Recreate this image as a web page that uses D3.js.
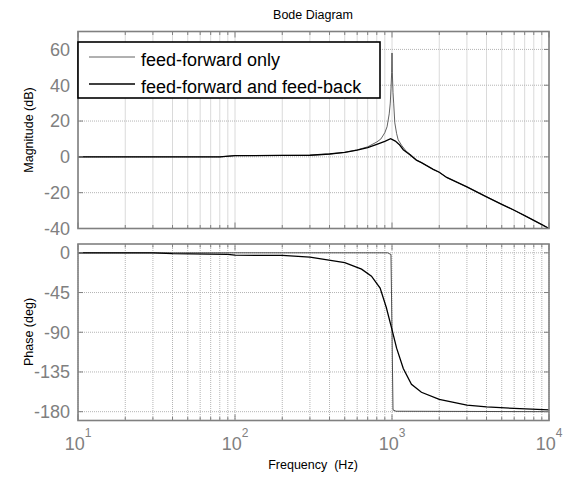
<!DOCTYPE html>
<html>
<head>
<meta charset="utf-8">
<script src="https://cdn.jsdelivr.net/npm/d3@7"></script>
<style>
  body { margin: 0; background: #fff; }
  svg { display: block; font-family: "Liberation Sans", Arial, sans-serif; }
</style>
</head>
<body>
<svg id="bode" width="567" height="477"></svg>
<script>
// feed-forward only: magnitude (dB) and phase (deg) against frequency (Hz)
let ffFreq = [10, 50, 80, 100, 200, 300, 400, 500, 600, 700, 800, 850, 900, 930, 960, 975, 985, 995, 1000, 1005, 1015, 1025, 1042, 1070, 1095, 1150, 1230, 1330, 1430, 1540, 1830, 2000, 2230, 3000, 4000, 5000, 6000, 7000, 8000, 9000, 10000]
let ffMag = [0, 0, 0, 0.7, 0.8, 0.9, 1.6, 2.5, 3.9, 5.6, 8.3, 10, 13.5, 16.8, 24, 30, 38, 47, 58, 47, 36, 30, 19, 13, 9.5, 6.5, 3.2, 0.9, -1.8, -3.2, -7, -8.6, -11.5, -16.8, -22.3, -26.5, -29.8, -32.8, -35.5, -37.8, -40]
let ffPhaseFreq = [10, 940, 985, 1000, 1015, 1060, 10000]
let ffPhase = [0, 0, -2, -90, -178, -179.5, -180]

// feed-forward and feed-back
let fbFreq = [10, 50, 80, 100, 200, 300, 400, 500, 600, 700, 800, 900, 980, 1050, 1120, 1180, 1300, 1430, 1540, 1830, 2000, 2230, 3000, 4000, 5000, 6000, 7000, 8000, 9000, 10000]
let fbMag = [0, 0, 0, 0.7, 0.8, 0.9, 1.6, 2.5, 3.8, 5.2, 7.0, 8.7, 10.1, 8.8, 6.6, 4.0, 1.2, -1.8, -3.2, -7, -8.6, -11.5, -16.8, -22.3, -26.5, -29.8, -32.8, -35.5, -37.8, -40]
let fbPhaseFreq = [10, 30, 40, 90, 100, 200, 300, 500, 640, 740, 840, 920, 1000, 1070, 1180, 1330, 1540, 2000, 3000, 4000, 6000, 10000]
let fbPhase = [0, 0, -1, -1.8, -2.7, -3, -4.8, -11, -18.5, -26.5, -40, -62, -87, -108, -131, -149, -158, -166, -172.5, -174.5, -176.3, -178]

let magTicks = [-40, -20, 0, 20, 40, 60]
let phaseTicks = [-180, -135, -90, -45, 0]
let decades = [10, 100, 1000, 10000]
let exponents = ['1', '2', '3', '4']
let legendLabels = ['feed-forward only', 'feed-forward and feed-back']

var svg = d3.select('#bode')
var left = 78
var right = 549
var axisGray = '#808080'

var x = d3.scaleLog()
  .domain([10, 10000])
  .range([left, right])

var yMag = d3.scaleLinear()
  .domain([-40, 70])
  .range([228.5, 31.5])

var yPhase = d3.scaleLinear()
  .domain([-190, 10])
  .range([420.5, 244])

// every decade plus 2..9 multiples for the log grid
var gridFreqs = []
decades.slice(0, 3).forEach(function (d) {
  for (let k = 1; k < 10; k++) gridFreqs.push(d * k)
})
gridFreqs.push(10000)

function drawPanel (name, y, ticks, traces) {
  var top = y.range()[1]
  var bottom = y.range()[0]
  var g = svg.append('g').attr('class', name)

  g.append('clipPath').attr('id', 'clip-' + name)
    .append('rect')
    .attr('x', left).attr('y', top)
    .attr('width', right - left).attr('height', bottom - top)

  // dotted grid
  g.selectAll('line.vgrid')
    .data(gridFreqs)
    .enter().append('line')
    .attr('class', 'vgrid')
    .attr('x1', d => x(d)).attr('x2', d => x(d))
    .attr('y1', top).attr('y2', bottom)
    .attr('stroke', '#b4b4b4')
    .attr('stroke-dasharray', '1,1')

  g.selectAll('line.hgrid')
    .data(ticks)
    .enter().append('line')
    .attr('class', 'hgrid')
    .attr('x1', left).attr('x2', right)
    .attr('y1', d => y(d)).attr('y2', d => y(d))
    .attr('stroke', '#b4b4b4')
    .attr('stroke-dasharray', '1,1')

  // traces
  var line = d3.line()
    .x(d => x(d[0]))
    .y(d => y(d[1]))
  traces.forEach(function (t) {
    g.append('path')
      .datum(d3.zip(t.freq, t.values))
      .attr('clip-path', 'url(#clip-' + name + ')')
      .attr('d', line)
      .attr('fill', 'none')
      .attr('stroke', t.color)
      .attr('stroke-width', t.width)
  })

  // box
  g.append('rect')
    .attr('x', left).attr('y', top)
    .attr('width', right - left).attr('height', bottom - top)
    .attr('fill', 'none')
    .attr('stroke', axisGray)
    .attr('stroke-width', 1.6)

  // inward ticks on all four sides
  gridFreqs.forEach(function (f) {
    var len = decades.indexOf(f) >= 0 ? 6 : 3.5
    g.append('line')
      .attr('x1', x(f)).attr('x2', x(f))
      .attr('y1', top).attr('y2', top + len)
      .attr('stroke', axisGray)
    g.append('line')
      .attr('x1', x(f)).attr('x2', x(f))
      .attr('y1', bottom).attr('y2', bottom - len)
      .attr('stroke', axisGray)
  })
  ticks.forEach(function (v) {
    g.append('line')
      .attr('x1', left).attr('x2', left + 5)
      .attr('y1', y(v)).attr('y2', y(v))
      .attr('stroke', axisGray)
    g.append('line')
      .attr('x1', right).attr('x2', right - 5)
      .attr('y1', y(v)).attr('y2', y(v))
      .attr('stroke', axisGray)
  })

  g.selectAll('text.ylab')
    .data(ticks)
    .enter().append('text')
    .attr('class', 'ylab')
    .attr('x', 70)
    .attr('y', d => y(d))
    .attr('dy', '0.35em')
    .attr('text-anchor', 'end')
    .attr('font-size', 18)
    .attr('fill', axisGray)
    .text(d => d)

  return g
}

drawPanel('mag', yMag, magTicks, [
  {freq: ffFreq, values: ffMag, color: '#3a3a3a', width: 0.8},
  {freq: fbFreq, values: fbMag, color: '#000', width: 1.3}
])

drawPanel('phase', yPhase, phaseTicks, [
  {freq: ffPhaseFreq, values: ffPhase, color: '#3a3a3a', width: 0.9},
  {freq: fbPhaseFreq, values: fbPhase, color: '#000', width: 1.3}
])

// decade labels 10^n under the phase panel
var xl = svg.selectAll('text.xlab')
  .data(decades)
  .enter().append('text')
  .attr('class', 'xlab')
  .attr('x', d => x(d))
  .attr('y', 450)
  .attr('text-anchor', 'middle')
  .attr('fill', axisGray)
  .attr('font-size', 18)
xl.append('tspan').text('10')
xl.append('tspan')
  .attr('dy', -13)
  .attr('font-size', 12)
  .text((d, i) => exponents[i])

// titles
svg.append('text')
  .attr('x', 313).attr('y', 19)
  .attr('text-anchor', 'middle')
  .attr('font-size', 12.5)
  .text('Bode Diagram')

svg.append('text')
  .attr('x', 313).attr('y', 469)
  .attr('text-anchor', 'middle')
  .attr('font-size', 12.5)
  .style('white-space', 'pre')
  .text('Frequency  (Hz)')

svg.append('text')
  .attr('transform', 'translate(33,130) rotate(-90)')
  .attr('text-anchor', 'middle')
  .attr('font-size', 12.5)
  .text('Magnitude (dB)')

svg.append('text')
  .attr('transform', 'translate(33,332) rotate(-90)')
  .attr('text-anchor', 'middle')
  .attr('font-size', 12.5)
  .text('Phase (deg)')

// legend
var legend = svg.append('g').attr('class', 'legend')
legend.append('rect')
  .attr('x', 78).attr('y', 42)
  .attr('width', 302).attr('height', 56)
  .attr('fill', '#fff')
  .attr('stroke', '#000')
  .attr('stroke-width', 1.6)

var legendY = [57, 84]
var legendStyle = [{color: '#3a3a3a', width: 0.8}, {color: '#000', width: 1.3}]
legendLabels.forEach(function (label, i) {
  legend.append('line')
    .attr('x1', 89).attr('x2', 135)
    .attr('y1', legendY[i]).attr('y2', legendY[i])
    .attr('stroke', legendStyle[i].color)
    .attr('stroke-width', legendStyle[i].width)
  legend.append('text')
    .attr('x', 141)
    .attr('y', legendY[i] + 8.5)
    .attr('font-size', 18)
    .text(label)
})
</script>
</body>
</html>
